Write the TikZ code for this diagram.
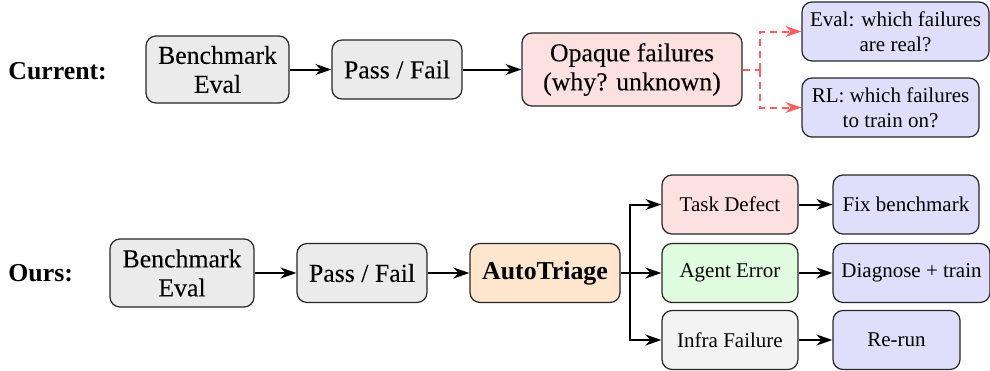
\documentclass[tikz,border=0pt]{standalone}
\usepackage{fontspec}
\setmainfont{Liberation Serif}
% larger box text, drawn filled and stroked
\newfontfamily\bigrm{Liberation Serif}[FakeBold=0.05]
\usepackage{xcolor}
\usepackage{tikz}
\usetikzlibrary{
  positioning,
  arrows.meta
}
\definecolor{boxgray}{HTML}{EBEBEB}
\definecolor{boxpink}{HTML}{FDE0E0}
\definecolor{boxblue}{HTML}{DFDFFC}
\definecolor{boxgreen}{HTML}{DFFCDF}
\definecolor{boxorange}{HTML}{FDE5CE}
\definecolor{boxlight}{HTML}{F3F3F3}
\definecolor{dashred}{HTML}{FF5F5F}

\begin{document}
\begin{tikzpicture}[
    x=0.5pt, y=-0.5pt,
    >={Stealth[length=8pt,width=5.5pt]},
    box/.style={draw=black!85, line width=0.6pt, rounded corners=5pt, align=center,
        inner xsep=4pt, inner ysep=2pt, minimum height=29.5pt,
        font=\fontsize{10.5}{12.5}\selectfont},
    big/.style={box, font=\fontsize{12.9}{14.5}\selectfont\bigrm},
    flow/.style={->, line width=1pt},
    hint/.style={->, line width=1pt, dashred, dash pattern=on 3.5pt off 2.5pt},
    rowlabel/.style={anchor=west, inner sep=0pt, font=\fontsize{12.9}{14.5}\selectfont\bfseries}
]
    \useasboundingbox (0,0) rectangle (990,370);

    % current pipeline
    \node[rowlabel] (cur) at (8,71) {Current:};
    \node[big, fill=boxgray, minimum width=71.5pt, minimum height=33.5pt] (bench1) at (217.5,69.5) {Benchmark\\Eval};
    \node[big, fill=boxgray, minimum width=65pt] (pf1) at (397,69.5) {Pass / Fail};
    \node[big, fill=boxpink, minimum width=110pt, minimum height=36.5pt] (opq) at (632,69.5) {Opaque failures\\(why? unknown)};
    \node[box, fill=boxblue, minimum width=93.5pt] (evalq) at (895.5,31.5) {Eval: which failures\\are real?};
    \node[box, fill=boxblue, minimum width=88.5pt] (rlq) at (890.5,107.5) {RL: which failures\\to train on?};

    \draw[flow] (bench1) -- (pf1);
    \draw[flow] (pf1) -- (opq);
    \coordinate (split) at (760,69.5);
    \draw[hint, -] (opq.east) -- (split);
    \draw[hint] (split) |- (evalq.west);
    \draw[hint] (split) |- (rlq.west);

    % our pipeline
    \node[rowlabel] (ours) at (8,273) {Ours:};
    \node[big, fill=boxgray, minimum width=72pt, minimum height=34pt] (bench2) at (182,273) {Benchmark\\Eval};
    \node[big, fill=boxgray, minimum width=65pt] (pf2) at (362,273) {Pass / Fail};
    \node[box, fill=boxorange, minimum width=75pt, font=\fontsize{12.9}{14.5}\selectfont\bfseries] (triage) at (545,273) {AutoTriage};

    \node[box, fill=boxpink, minimum width=68pt] (task) at (730,204.5) {Task Defect};
    \node[box, fill=boxgreen, minimum width=68pt] (agent) at (730,273) {Agent Error};
    \node[box, fill=boxlight, minimum width=68pt] (infra) at (730,340) {Infra Failure};
    \node[box, fill=boxblue, minimum width=73pt] (fix) at (906,204.5) {Fix benchmark};
    \node[box, fill=boxblue, minimum width=78.5pt] (diag) at (911.5,273) {Diagnose + train};
    \node[box, fill=boxblue, minimum width=63.5pt] (rerun) at (896.5,340) {Re-run};

    \draw[flow] (bench2) -- (pf2);
    \draw[flow] (pf2) -- (triage);
    \coordinate (fork) at (630,273);
    \draw[line width=1pt] (triage.east) -- (fork);
    \draw[flow] (fork) |- (task.west);
    \draw[flow] (fork) -- (agent.west);
    \draw[flow] (fork) |- (infra.west);
    \draw[flow] (task) -- (fix);
    \draw[flow] (agent) -- (diag);
    \draw[flow] (infra) -- (rerun);
\end{tikzpicture}
\end{document}
